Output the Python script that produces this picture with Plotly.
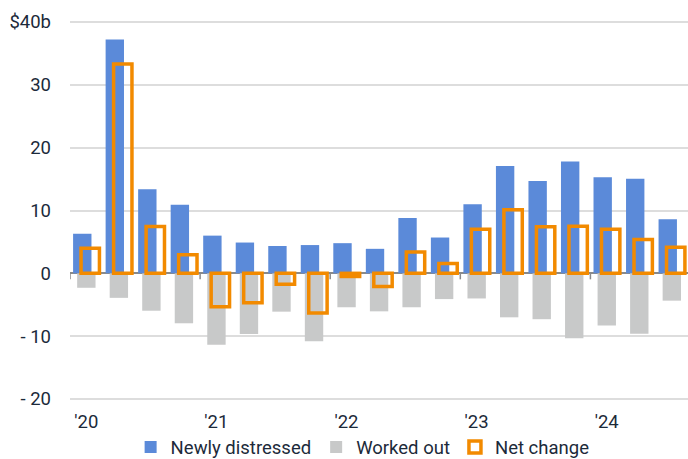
import plotly.graph_objects as go

# Quarterly distressed commercial real estate flows, $ billions
quarters = [
    "Q1 2020", "Q2 2020", "Q3 2020", "Q4 2020",
    "Q1 2021", "Q2 2021", "Q3 2021", "Q4 2021",
    "Q1 2022", "Q2 2022", "Q3 2022", "Q4 2022",
    "Q1 2023", "Q2 2023", "Q3 2023", "Q4 2023",
    "Q1 2024", "Q2 2024", "Q3 2024",
]
newly_distressed = [6.3, 37.2, 13.4, 10.9, 6.0, 4.9, 4.35, 4.5, 4.8, 3.9, 8.8, 5.7,
                    11.0, 17.1, 14.7, 17.8, 15.3, 15.05, 8.6]
worked_out = [-2.3, -3.9, -5.95, -7.95, -11.35, -9.65, -6.1, -10.8, -5.4, -6.05, -5.4, -4.1,
              -4.0, -7.0, -7.3, -10.35, -8.3, -9.6, -4.35]
net_change = [4.0, 33.3, 7.45, 2.95, -5.3, -4.7, -1.75, -6.3, -0.5, -2.1, 3.4, 1.55,
              7.0, 10.1, 7.4, 7.5, 7.0, 5.4, 4.15]

year_labels = ["'20", "'21", "'22", "'23", "'24"]
y_ticks = [-20, -10, 0, 10, 20, 30, 40]
y_tick_text = ["- 20", "- 10", "0", "10", "20", "30", "$40b"]

BLUE = "#5b8ad9"
GRAY = "#c8c9c9"
ORANGE = "#f28a00"
TEXT = "#1c2a3a"
FONT = "Roboto, Arial, sans-serif"
FONT_SIZE = 18.5

BAR_W = 0.565

fig = go.Figure()
fig.add_trace(go.Bar(
    x=quarters, y=newly_distressed, name="Newly distressed",
    marker=dict(color=BLUE, line=dict(width=0)),
    width=BAR_W, offset=-0.405,
))
fig.add_trace(go.Bar(
    x=quarters, y=worked_out, name="Worked out",
    marker=dict(color=GRAY, line=dict(width=0)),
    width=BAR_W, offset=-0.28,
))
fig.add_trace(go.Bar(
    x=quarters, y=net_change, name="Net change",
    marker=dict(color="rgba(0,0,0,0)", line=dict(color=ORANGE, width=3.5)),
    width=BAR_W, offset=-0.16,
))

# small tick marks on the zero line at each year boundary
year_starts = [i for i, q in enumerate(quarters) if q.startswith("Q1")]
for i in year_starts:
    fig.add_shape(
        type="line", xref="x", yref="y",
        x0=i - 0.5, x1=i - 0.5,
        ysizemode="pixel", yanchor=0, y0=0, y1=-6,
        line=dict(color="#8a8a8a", width=1.5),
    )

fig.update_layout(
    width=688, height=459,
    margin=dict(l=70, r=0, t=21, b=59, autoexpand=False),
    paper_bgcolor="white", plot_bgcolor="white",
    barmode="overlay",
    font=dict(family=FONT, size=FONT_SIZE, color=TEXT),
    showlegend=True,
    legend=dict(
        orientation="h", x=0.4735, xanchor="center",
        yref="container", y=0.025, yanchor="middle",
        bgcolor="rgba(0,0,0,0)",
        font=dict(size=FONT_SIZE, color=TEXT), itemwidth=30, tracegroupgap=0,
    ),
    xaxis=dict(
        type="category",
        range=[-0.5, len(quarters) - 0.5],
        tickmode="array",
        tickvals=[quarters[i] for i in year_starts],
        ticktext=year_labels,
        showgrid=False, zeroline=False, showline=False,
        ticks="", ticklabelstandoff=8,
        tickfont=dict(size=FONT_SIZE, color=TEXT),
    ),
    yaxis=dict(
        range=[-20.16, 40.16],
        tickmode="array", tickvals=y_ticks, ticktext=y_tick_text,
        showgrid=True, gridcolor="#dddddd", gridwidth=1.5,
        zeroline=True, zerolinecolor="#8a8a8a", zerolinewidth=1.5,
        showline=False, ticks="", ticklabelstandoff=18,
        tickfont=dict(size=FONT_SIZE, color=TEXT),
    ),
)

fig.write_html("out.html")
